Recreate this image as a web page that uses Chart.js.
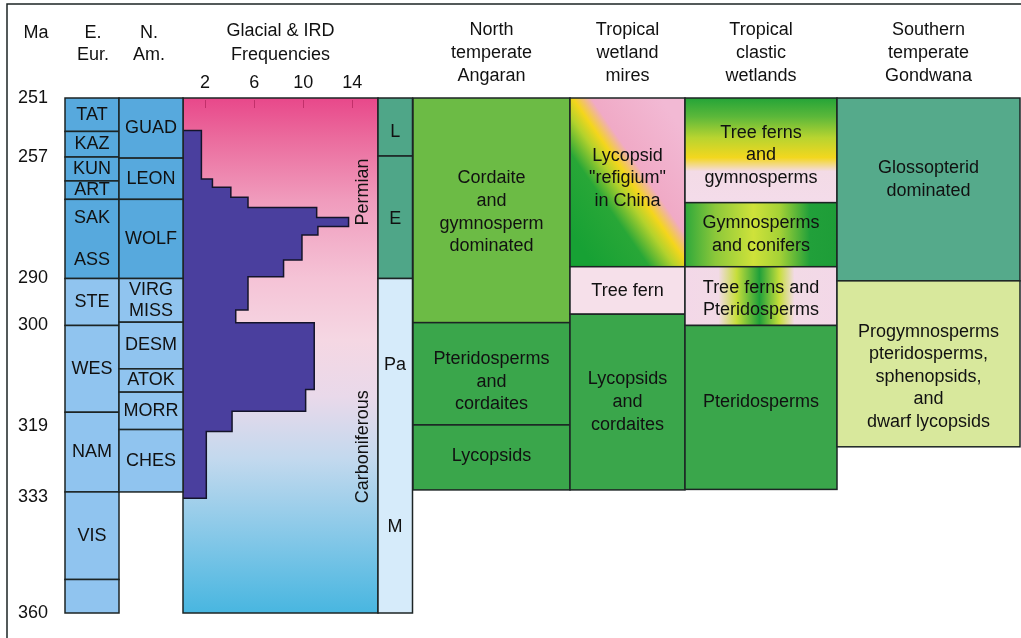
<!DOCTYPE html>
<html>
<head>
<meta charset="utf-8">
<script src="https://cdn.jsdelivr.net/npm/chart.js@4/dist/chart.umd.min.js"></script>
<style>
  html, body { margin: 0; padding: 0; background: #fff; }
</style>
</head>
<body>
<canvas id="grafico" width="1021" height="638"></canvas>
<script>
// ages (Ma) on the left axis and where each one sits down the (stretched) time axis
const ageTicks = [251, 257, 290, 300, 319, 333, 360];
const tickStops = [0, 0.1146, 0.3505, 0.4417, 0.6369, 0.7748, 1];

// stages, East Europe and North America
const eurStages = ['TAT', 'KAZ', 'KUN', 'ART', 'SAK\n\nASS', 'STE', 'WES', 'NAM', 'VIS', ''];
const eurBounds = [251, 254.4, 257, 263.5, 268.5, 290, 300, 316.4, 332.0, 352.2, 360];
const amStages = ['GUAD', 'LEON', 'WOLF', 'VIRG\nMISS', 'DESM', 'ATOK', 'MORR', 'CHES'];
const amBounds = [251, 257.3, 268.5, 290, 299.3, 308.2, 312.6, 319.7, 332.0];

// glacial & IRD frequency, one value per interval
const irdBounds = [254.3, 263.0, 265.2, 267.9, 270.7, 273.4, 275.9, 278.2, 285.0, 289.5, 296.7, 299.4, 312.1, 316.2, 320.1, 333.3];
const irdFreq = [1.7, 2.6, 4.1, 5.5, 11.1, 13.7, 11.2, 9.9, 8.4, 5.5, 4.5, 10.9, 10.2, 4.2, 2.1];
const freqTicks = [2, 6, 10, 14];
const freqMin = 0.2, freqMax = 16.1;

// periods and epochs
const periods = ['Permian', 'Carboniferous'];
const periodAt = [266.5, 323.1];
const epochs = ['L', 'E', ''];
const epochBounds = [251, 256.9, 290, 360];
const subEpochs = ['Pa', 'M'];
const subEpochAt = [307.5, 340.0];

// floral realms
const regions = ['North\ntemperate\nAngaran', 'Tropical\nwetland\nmires', 'Tropical\nclastic\nwetlands', 'Southern\ntemperate\nGondwana'];
const angaran = ['Cordaite\nand\ngymnosperm\ndominated', 'Pteridosperms\nand\ncordaites', 'Lycopsids'];
const angaranBounds = [251, 299.4, 318.8, 331.6];
const mires = ['Lycopsid\n"refigium"\nin China', 'Tree fern', 'Lycopsids\nand\ncordaites'];
const miresBounds = [251, 286.8, 297.6, 331.6];
const clastic = ['Tree ferns\nand\ngymnosperms', 'Gymnosperms\nand conifers', 'Tree ferns and\nPteridosperms', 'Pteridosperms'];
const clasticBounds = [251, 269.4, 286.8, 300.0, 331.5];
const gondwana = ['Glossopterid\ndominated', 'Progymnosperms\npteridosperms,\nsphenopsids,\nand\ndwarf lycopsids'];
const gondwanaBounds = [251, 290.5, 323.1];

const fonte = '"Liberation Sans", Arial, Helvetica, sans-serif';
const linha = '#1c2424';
const texto = '#111';

// piecewise time axis: linear between the labelled ages
function stretch(v) {
  let i = 0;
  while (i < ageTicks.length - 2 && v > ageTicks[i + 1]) i++;
  const t = (v - ageTicks[i]) / (ageTicks[i + 1] - ageTicks[i]);
  return tickStops[i] + t * (tickStops[i + 1] - tickStops[i]);
}
function unstretch(f) {
  let i = 0;
  while (i < tickStops.length - 2 && f > tickStops[i + 1]) i++;
  const t = (f - tickStops[i]) / (tickStops[i + 1] - tickStops[i]);
  return ageTicks[i] + t * (ageTicks[i + 1] - ageTicks[i]);
}
class StretchScale extends Chart.LinearScale {
  getPixelForValue(v) {
    return this.top + stretch(v) * (this.bottom - this.top);
  }
  getValueForPixel(p) {
    return unstretch((p - this.top) / (this.bottom - this.top));
  }
}
StretchScale.id = 'stretch';
StretchScale.defaults = Chart.LinearScale.defaults;
Chart.register(StretchScale);

// gradient fills
const refugio = (ctx, x0, y0, x1, y1) => {
  const cx = (x0 + x1) / 2, cy = (y0 + y1) / 2;
  const g = ctx.createLinearGradient(cx - 62, cy + 43, cx + 62, cy - 43);
  g.addColorStop(0, '#17a134');
  g.addColorStop(0.3, '#28a737');
  g.addColorStop(0.44, '#b4d22c');
  g.addColorStop(0.52, '#f4d61c');
  g.addColorStop(0.62, '#f0aac6');
  g.addColorStop(1, '#f2b9d4');
  return g;
};
const fetosGimno = (ctx, x0, y0, x1, y1) => {
  const g = ctx.createLinearGradient(0, y0, 0, y1);
  g.addColorStop(0, '#24a438');
  g.addColorStop(0.18, '#5cb83a');
  g.addColorStop(0.38, '#b8d430');
  g.addColorStop(0.57, '#f3d71e');
  g.addColorStop(0.7, '#f3dbe6');
  g.addColorStop(1, '#f4dcea');
  return g;
};
const gimnoConif = (ctx, x0, y0, x1, y1) => {
  const g = ctx.createLinearGradient(x0, 0, x1, 0);
  g.addColorStop(0, '#2ea83b');
  g.addColorStop(0.2, '#8cc83a');
  g.addColorStop(0.45, '#cfe23a');
  g.addColorStop(0.62, '#a6d236');
  g.addColorStop(0.82, '#21a03a');
  g.addColorStop(1, '#1e9d38');
  return g;
};
const fetosPteri = (ctx, x0, y0, x1, y1) => {
  const g = ctx.createLinearGradient(x0, 0, x1, 0);
  g.addColorStop(0, '#f3d8e8');
  g.addColorStop(0.22, '#f2dae6');
  g.addColorStop(0.34, '#c6de3a');
  g.addColorStop(0.49, '#1fa03a');
  g.addColorStop(0.62, '#c6de3a');
  g.addColorStop(0.72, '#f2dae6');
  g.addColorStop(1, '#f3d8e8');
  return g;
};

const verdeEscuro = '#3aa64b';
const colunas = [
  { nomes: angaran, limites: angaranBounds, x0: 413, x1: 570, fills: ['#6cbb45', verdeEscuro, verdeEscuro], dys: [2, 8, -1] },
  { nomes: mires, limites: miresBounds, x0: 570, x1: 685, fills: [refugio, '#f6e0ea', verdeEscuro], dys: [-4, 1, 0] },
  { nomes: clastic, limites: clasticBounds, x0: 685, x1: 837, fills: [fetosGimno, gimnoConif, fetosPteri, verdeEscuro], dys: [5, 0, 3, -5] },
  { nomes: gondwana, limites: gondwanaBounds, x0: 837, x1: 1020, fills: ['#55aa8b', '#d8e89c'], dys: [-10, 13] }
];

function linhas(ctx, txt, x, y, lh) {
  const ls = txt.split('\n');
  const y0 = y - (ls.length - 1) * lh / 2;
  ls.forEach((t, i) => ctx.fillText(t, x, y0 + i * lh));
}

function caixa(ctx, x0, y0, x1, y1, fill) {
  ctx.fillStyle = typeof fill === 'function' ? fill(ctx, x0, y0, x1, y1) : fill;
  ctx.fillRect(x0, y0, x1 - x0, y1 - y0);
  ctx.strokeRect(x0, y0, x1 - x0, y1 - y0);
}

function coluna(ctx, y, nomes, limites, x0, x1, fills, dys, lh) {
  const pos = limites.map(v => y.getPixelForValue(v));
  nomes.forEach((n, i) => caixa(ctx, x0, pos[i], x1, pos[i + 1], fills[i]));
  ctx.fillStyle = texto;
  nomes.forEach((n, i) => {
    const dy = dys ? dys[i] : 0;
    linhas(ctx, n, (x0 + x1) / 2, (pos[i] + pos[i + 1]) / 2 + dy, lh);
  });
}

const fundo = {
  id: 'fundo',
  beforeDatasetsDraw(chart) {
    const { ctx, chartArea: a, scales: { x } } = chart;
    ctx.save();
    const g = ctx.createLinearGradient(0, a.top, 0, a.bottom);
    g.addColorStop(0, '#e8488a');
    g.addColorStop(0.08, '#eb6c9e');
    g.addColorStop(0.2, '#f09cbd');
    g.addColorStop(0.35, '#f5c3d6');
    g.addColorStop(0.47, '#f5d7e3');
    g.addColorStop(0.58, '#e9d9ea');
    g.addColorStop(0.7, '#c3d9ee');
    g.addColorStop(0.85, '#86c8e8');
    g.addColorStop(1, '#48b6e0');
    ctx.fillStyle = g;
    ctx.fillRect(a.left, a.top, a.right - a.left, a.bottom - a.top);
    // small tick marks inside the top edge
    ctx.strokeStyle = '#c2306a';
    ctx.lineWidth = 1;
    freqTicks.forEach(v => {
      const px = Math.round(x.getPixelForValue(v)) + 0.5;
      ctx.beginPath();
      ctx.moveTo(px, a.top + 2);
      ctx.lineTo(px, a.top + 10);
      ctx.stroke();
    });
    ctx.restore();
  }
};

const desenho = {
  id: 'desenho',
  afterDraw(chart) {
    const { ctx, chartArea: a, scales: { y } } = chart;
    ctx.save();
    ctx.lineWidth = 1.5;
    ctx.strokeStyle = linha;
    ctx.textAlign = 'center';
    ctx.textBaseline = 'middle';
    ctx.font = '18px ' + fonte;

    // histogram frame
    ctx.strokeRect(a.left, a.top, a.right - a.left, a.bottom - a.top);

    // stage columns
    const corStage = (lim, i) => lim[i] < 290 ? '#57a9dd' : '#90c4ef';
    coluna(ctx, y, eurStages, eurBounds, 65, 119, eurStages.map((s, i) => corStage(eurBounds, i)), null, 21);
    coluna(ctx, y, amStages, amBounds, 119, 183, amStages.map((s, i) => corStage(amBounds, i)), null, 21.6);

    // epochs
    coluna(ctx, y, epochs, epochBounds, 378, 412.5, epochBounds.slice(1).map(v => v <= 290 ? '#4fa688' : '#d6ebfa'), [5, 2, 0], 22);
    ctx.fillStyle = texto;
    subEpochs.forEach((s, i) => ctx.fillText(s, 395, y.getPixelForValue(subEpochAt[i])));

    // period names, rotated inside the histogram
    periods.forEach((p, i) => {
      ctx.save();
      ctx.translate(363, y.getPixelForValue(periodAt[i]));
      ctx.rotate(-Math.PI / 2);
      ctx.fillText(p, 0, 0);
      ctx.restore();
    });

    // floral realms
    colunas.forEach((c, k) => {
      coluna(ctx, y, c.nomes, c.limites, c.x0, c.x1, c.fills, c.dys, 22.6);
      ctx.fillStyle = texto;
      linhas(ctx, regions[k], (c.x0 + c.x1) / 2, 53, 22.7);
    });

    // headers
    ctx.fillStyle = texto;
    ctx.fillText('Ma', 36, 33);
    linhas(ctx, 'E.\nEur.', 93, 44, 22);
    linhas(ctx, 'N.\nAm.', 149, 44, 22);
    linhas(ctx, 'Glacial & IRD\nFrequencies', (a.left + a.right) / 2, 43, 23.5);

    // outer frame
    ctx.beginPath();
    ctx.moveTo(7, 638);
    ctx.lineTo(7, 4);
    ctx.lineTo(1021, 4);
    ctx.stroke();
    ctx.restore();
  }
};

// histogram outline, stepped from the interval values
const contorno = [{ x: freqMin, y: irdBounds[0] }];
irdFreq.forEach((f, i) => {
  contorno.push({ x: f, y: irdBounds[i] });
  contorno.push({ x: f, y: irdBounds[i + 1] });
});
contorno.push({ x: freqMin, y: irdBounds[irdBounds.length - 1] });

const ctx = document.getElementById('grafico');
new Chart(ctx, {
  type: 'line',
  data: {
    datasets: [{
      label: 'Glacial & IRD Frequencies',
      data: contorno,
      borderColor: '#14142a',
      borderWidth: 1.5,
      backgroundColor: '#4a3f9e',
      fill: 'start',
      pointRadius: 0,
      tension: 0
    }]
  },
  options: {
    responsive: false,
    animation: false,
    indexAxis: 'y',
    layout: { padding: { top: 58, right: 643, bottom: 25, left: 18 } },
    plugins: { legend: { display: false }, tooltip: { enabled: false } },
    scales: {
      x: {
        type: 'linear',
        position: 'top',
        min: freqMin,
        max: freqMax,
        grid: { display: false, drawTicks: false },
        border: { display: false },
        afterBuildTicks: s => { s.ticks = freqTicks.map(v => ({ value: v })); },
        afterFit: s => { s.height = 40; },
        ticks: { font: { family: fonte, size: 18 }, color: texto, padding: 4, autoSkip: false, maxRotation: 0 }
      },
      y: {
        type: 'stretch',
        min: 251,
        max: 360,
        grid: { display: false, drawTicks: false },
        border: { display: false },
        afterBuildTicks: s => { s.ticks = ageTicks.map(v => ({ value: v })); },
        afterFit: s => { s.width = 165; },
        ticks: { font: { family: fonte, size: 18 }, color: texto, padding: 0, crossAlign: 'far', autoSkip: false }
      }
    }
  },
  plugins: [fundo, desenho]
});
</script>
</body>
</html>
